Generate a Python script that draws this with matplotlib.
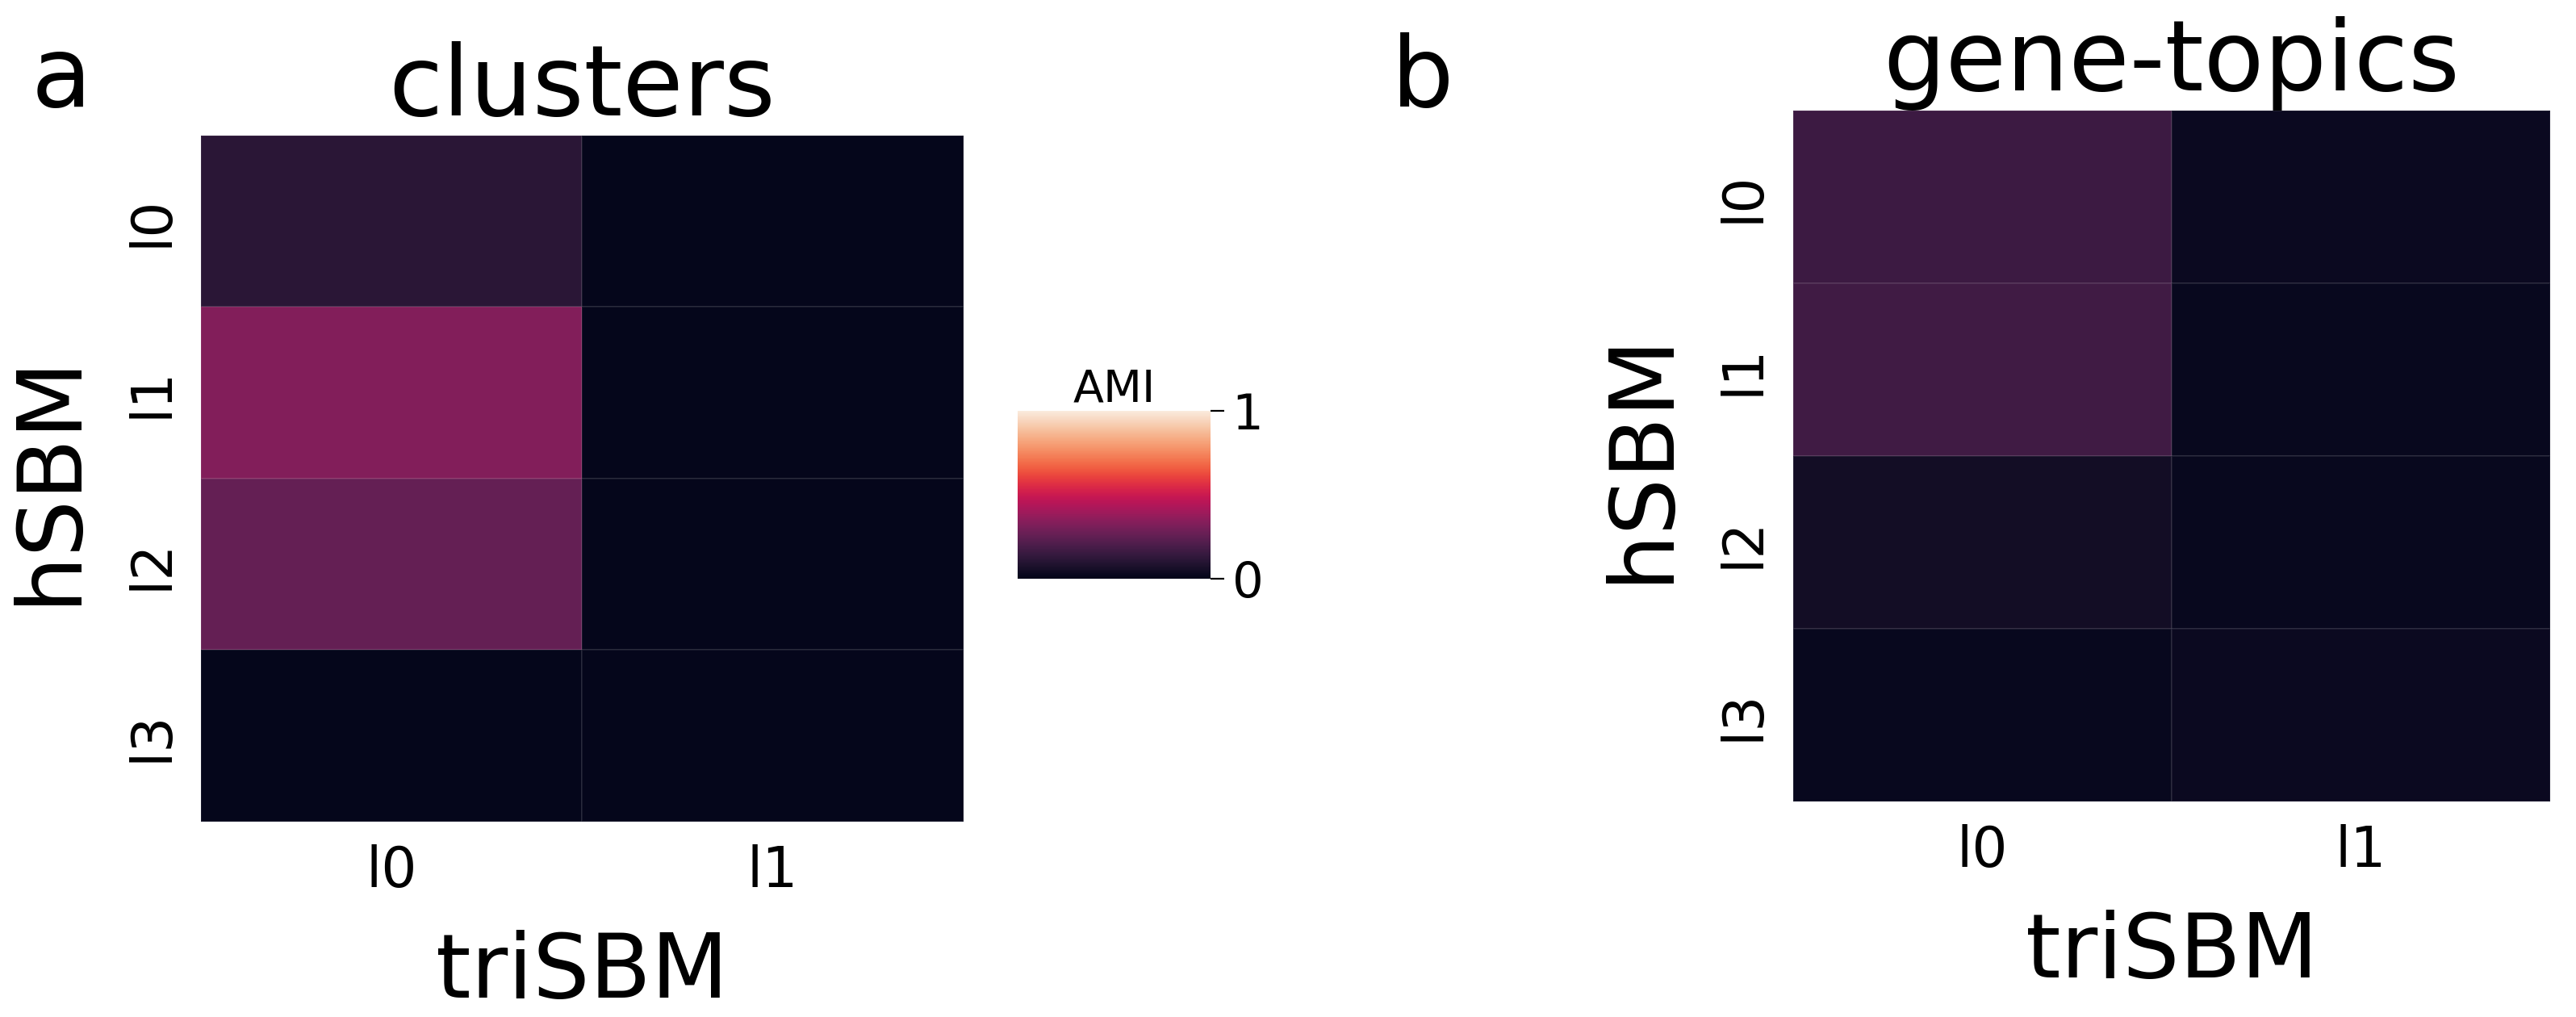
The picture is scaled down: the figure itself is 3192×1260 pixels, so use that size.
import matplotlib
matplotlib.use("Agg")
import matplotlib.pyplot as plt
import numpy as np
import seaborn as sns

rows = ["l0", "l1", "l2", "l3"]
cols = ["l0", "l1"]
clusters_ami = [[0.11, 0.01],
                [0.33, 0.01],
                [0.26, 0.01],
                [0.01, 0.01]]
topics_ami = [[0.16, 0.03],
              [0.17, 0.02],
              [0.05, 0.02],
              [0.02, 0.03]]

cmap = sns.color_palette("rocket", as_cmap=True)

fig = plt.figure(figsize=(15.96, 6.3), dpi=200)

def heat(ax, data, title):
    m = ax.pcolormesh(np.array(data), cmap=cmap, vmin=0, vmax=1,
                      edgecolor=(1, 1, 1, 0.08), linewidth=0.6)
    ax.set_xlim(0, len(cols))
    ax.set_ylim(len(rows), 0)
    ax.set_xticks(np.arange(len(cols)) + 0.5)
    ax.set_xticklabels(cols, fontsize=25)
    ax.set_yticks(np.arange(len(rows)) + 0.5)
    ax.set_yticklabels(rows, fontsize=25, rotation=90, va="center")
    ax.tick_params(length=0, pad=10)
    for s in ax.spines.values():
        s.set_visible(False)
    ax.set_xlabel("triSBM", fontsize=40, labelpad=14)
    ax.set_ylabel("hSBM", fontsize=40, labelpad=14)
    ax.set_title(title, fontsize=44, pad=8)
    return m

ax1 = fig.add_axes([0.078, 0.192, 0.296, 0.675])
m = heat(ax1, clusters_ami, "clusters")
ax2 = fig.add_axes([0.696, 0.212, 0.294, 0.679])
heat(ax2, topics_ami, "gene-topics")

cax = fig.add_axes([0.395, 0.431, 0.075, 0.165])
cb = fig.colorbar(m, cax=cax, ticks=[0, 1])
cb.outline.set_visible(False)
cb.ax.tick_params(labelsize=22, length=6)
cax.set_title("AMI", fontsize=20, pad=2)

fig.text(0.012, 0.895, "a", fontsize=44)
fig.text(0.54, 0.895, "b", fontsize=44)

fig.savefig("out.png", dpi=200)
